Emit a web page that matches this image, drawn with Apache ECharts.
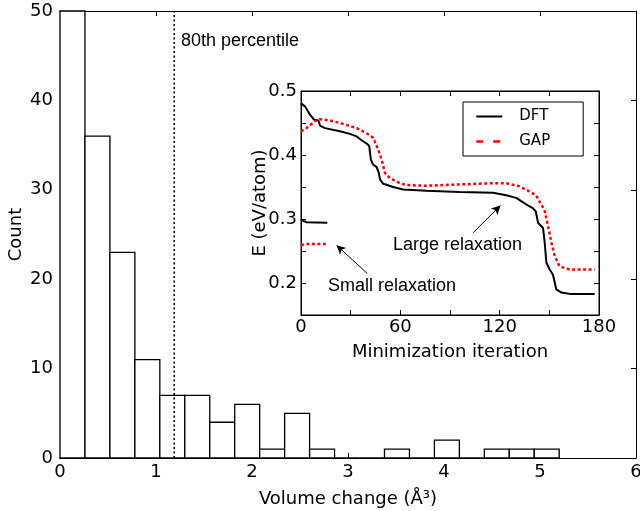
<!DOCTYPE html>
<html>
<head>
<meta charset="utf-8">
<script src="https://cdn.jsdelivr.net/npm/echarts@6/dist/echarts.min.js"></script>
<style>
  html, body { margin: 0; padding: 0; background: #fff; }
  #chart { width: 640px; height: 511px; }
</style>
</head>
<body>
<div id="chart"></div>
<script>
// histogram of volume changes
const binEdges = [0, 0.26, 0.52, 0.78, 1.04, 1.30, 1.56, 1.82, 2.08, 2.34, 2.60,
  2.86, 3.12, 3.38, 3.64, 3.90, 4.16, 4.42, 4.68, 4.94, 5.20];
const binCounts = [50, 36, 23, 11, 7, 7, 4, 6, 1, 5, 1, 0, 0, 1, 0, 2, 0, 1, 1, 1];
const percentile80 = 1.19;

// inset: energy vs minimization iteration
const dftLarge = [[0, 0.481], [2.4, 0.476], [5.4, 0.463], [8, 0.455], [10.5, 0.454], [11.5, 0.446],
  [14.5, 0.442], [23.5, 0.437], [29.6, 0.433], [33.6, 0.429], [36.6, 0.423], [39.6, 0.418],
  [41.2, 0.414], [42.2, 0.393], [43.6, 0.385], [45.7, 0.381], [47, 0.372], [47.7, 0.362],
  [49.7, 0.355], [55.7, 0.350], [61.7, 0.346], [75.8, 0.344], [95.9, 0.342], [116, 0.341],
  [124, 0.337], [130, 0.333], [133, 0.328], [136, 0.323], [140, 0.317], [141.8, 0.312],
  [143.2, 0.294], [146.2, 0.286], [147.2, 0.263], [148.2, 0.232], [150.2, 0.221], [152.2, 0.213],
  [154.2, 0.190], [157.3, 0.185], [162.3, 0.183], [177.4, 0.183]];
const gapLarge = [[0, 0.437], [3.4, 0.442], [8.4, 0.453], [11.5, 0.456], [17.5, 0.454], [23.5, 0.450],
  [33.6, 0.442], [39.6, 0.434], [43.6, 0.427], [46.7, 0.408], [48.7, 0.393], [50.7, 0.372],
  [53.7, 0.364], [59.7, 0.356], [63.7, 0.353], [75.8, 0.352], [95.9, 0.354], [116, 0.356],
  [124, 0.356], [132, 0.351], [138, 0.343], [142, 0.337], [145, 0.323], [147, 0.315],
  [149.2, 0.289], [151.3, 0.263], [153.3, 0.242], [156.2, 0.226], [162.3, 0.221], [177.4, 0.221]];
const dftSmall = [[0, 0.300], [1.5, 0.297], [3.4, 0.295], [15.9, 0.294]];
const gapSmall = [[0, 0.259], [3.4, 0.261], [15.9, 0.261]];

const largeArrow = [[104, 0.2785], [120.5, 0.321]];
const smallArrow = [[40, 0.215], [21.5, 0.259]];

const FONT = 'DejaVu Sans';
const ANNOT = '18px "Liberation Sans"';
const tickLabel = { color: '#000', fontFamily: FONT, fontSize: 18 };
const nameStyle = { color: '#000', fontFamily: FONT, fontSize: 18 };
const DFT_COLOR = '#000';
const GAP_COLOR = '#ff0000';

function frameAxis(extra) {
  return Object.assign({
    nameMoveOverlap: false,
    axisLine: { show: true, onZero: false, lineStyle: { color: '#000', width: 1 } },
    axisTick: { show: true, inside: true, length: 5, lineStyle: { color: '#000', width: 1 } },
    splitLine: { show: false },
  }, extra);
}

const histData = binCounts.map((c, i) => [binEdges[i], binEdges[i + 1], c]);

const chart = echarts.init(document.getElementById('chart'), null, { renderer: 'canvas' });

chart.setOption({
  animation: false,
  backgroundColor: '#fff',
  grid: [
    { left: 60, top: 11, width: 576, height: 447, outerBoundsMode: 'none' },
    { left: 301, top: 91, width: 298, height: 224, show: true, backgroundColor: '#fff',
      borderColor: '#000', borderWidth: 1, outerBoundsMode: 'none', z: 5 },
  ],
  xAxis: [
    frameAxis({ gridIndex: 0, type: 'value', min: 0, max: 6, interval: 1,
      axisLabel: Object.assign({ margin: 5 }, tickLabel),
      name: 'Volume change (Å³)', nameLocation: 'middle', nameGap: 32, nameTextStyle: nameStyle }),
    frameAxis({ gridIndex: 0, type: 'value', min: 0, max: 6, interval: 1, position: 'top',
      axisLabel: { show: false } }),
    frameAxis({ gridIndex: 1, type: 'value', min: 0, max: 180, interval: 30, z: 6,
      axisLabel: Object.assign({ margin: 3, formatter: (v) => (v % 60 === 0 ? String(v) : '') }, tickLabel),
      name: 'Minimization iteration', nameLocation: 'middle', nameGap: 28, nameTextStyle: nameStyle }),
    frameAxis({ gridIndex: 1, type: 'value', min: 0, max: 180, interval: 30, position: 'top', z: 6,
      axisLabel: { show: false } }),
  ],
  yAxis: [
    frameAxis({ gridIndex: 0, type: 'value', min: 0, max: 50, interval: 10,
      axisLabel: Object.assign({ margin: 7 }, tickLabel),
      name: 'Count', nameLocation: 'middle', nameGap: 35, nameTextStyle: nameStyle }),
    frameAxis({ gridIndex: 0, type: 'value', min: 0, max: 50, interval: 10, position: 'right',
      axisLabel: { show: false } }),
    frameAxis({ gridIndex: 1, type: 'value', min: 0.15, max: 0.5, interval: 0.05, z: 6,
      axisLabel: Object.assign({ margin: 4, formatter: (v) => {
        const r = Math.round(v * 10);
        return Math.abs(v * 10 - r) < 1e-6 ? (r / 10).toFixed(1) : '';
      } }, tickLabel),
      name: 'E (eV/atom)', nameLocation: 'middle', nameGap: 32, nameTextStyle: nameStyle }),
    frameAxis({ gridIndex: 1, type: 'value', min: 0.15, max: 0.5, interval: 0.05, position: 'right', z: 6,
      axisLabel: { show: false } }),
  ],
  legend: {
    left: 463, top: 102, orient: 'vertical', z: 10,
    backgroundColor: '#fff', borderColor: '#000', borderWidth: 1, borderRadius: 0,
    padding: [7, 33, 7, 12], itemGap: 10, itemWidth: 26, itemHeight: 14,
    itemStyle: { opacity: 0 },
    textStyle: { color: '#000', fontFamily: FONT, fontSize: 15, padding: [0, 0, 0, 12] },
    data: [
      { name: 'DFT', itemStyle: { opacity: 0 }, lineStyle: { color: DFT_COLOR, width: 2, type: 'solid' } },
      { name: 'GAP', itemStyle: { opacity: 0 }, lineStyle: { color: GAP_COLOR, width: 2.5, type: [7, 10] } },
    ],
  },
  series: [
    {
      type: 'custom', xAxisIndex: 0, yAxisIndex: 0, z: 2,
      data: histData,
      encode: { x: [0, 1], y: 2 },
      renderItem: (params, api) => {
        const p0 = api.coord([api.value(0), api.value(2)]);
        const p1 = api.coord([api.value(1), 0]);
        return {
          type: 'rect',
          shape: { x: p0[0], y: p0[1], width: p1[0] - p0[0], height: p1[1] - p0[1] },
          style: { fill: '#fff', stroke: '#000', lineWidth: 1.3 },
        };
      },
    },
    {
      type: 'line', xAxisIndex: 0, yAxisIndex: 0, z: 3, symbol: 'none',
      data: [[percentile80, 0], [percentile80, 50]],
      lineStyle: { color: '#000', width: 1.6, type: [2, 2.5] },
    },
    {
      name: 'DFT', type: 'line', xAxisIndex: 2, yAxisIndex: 2, z: 7, symbol: 'none',
      color: DFT_COLOR, data: dftLarge, lineStyle: { color: DFT_COLOR, width: 2 },
      markLine: {
        silent: true, symbol: ['none', 'arrow'], symbolSize: [7, 9],
        lineStyle: { color: '#000', width: 1, type: 'solid' }, label: { show: false },
        data: [
          [{ coord: largeArrow[0] }, { coord: largeArrow[1] }],
          [{ coord: smallArrow[0] }, { coord: smallArrow[1] }],
        ],
      },
    },
    {
      name: 'DFT', type: 'line', xAxisIndex: 2, yAxisIndex: 2, z: 7, symbol: 'none',
      color: DFT_COLOR, data: dftSmall, lineStyle: { color: DFT_COLOR, width: 2 },
    },
    {
      name: 'GAP', type: 'line', xAxisIndex: 2, yAxisIndex: 2, z: 7, symbol: 'none',
      color: GAP_COLOR, data: gapLarge, lineStyle: { color: GAP_COLOR, width: 2.5, type: [3, 2.5] },
    },
    {
      name: 'GAP', type: 'line', xAxisIndex: 2, yAxisIndex: 2, z: 7, symbol: 'none',
      color: GAP_COLOR, data: gapSmall, lineStyle: { color: GAP_COLOR, width: 2.5, type: [3, 2.5] },
    },
  ],
  graphic: [
    { type: 'text', x: 181, y: 41, z: 20,
      style: { text: '80th percentile', fill: '#000', font: ANNOT, verticalAlign: 'middle' } },
    { type: 'text', x: 393, y: 245, z: 20,
      style: { text: 'Large relaxation', fill: '#000', font: ANNOT, verticalAlign: 'middle' } },
    { type: 'text', x: 328, y: 286, z: 20,
      style: { text: 'Small relaxation', fill: '#000', font: ANNOT, verticalAlign: 'middle' } },
  ],
});
</script>
</body>
</html>
